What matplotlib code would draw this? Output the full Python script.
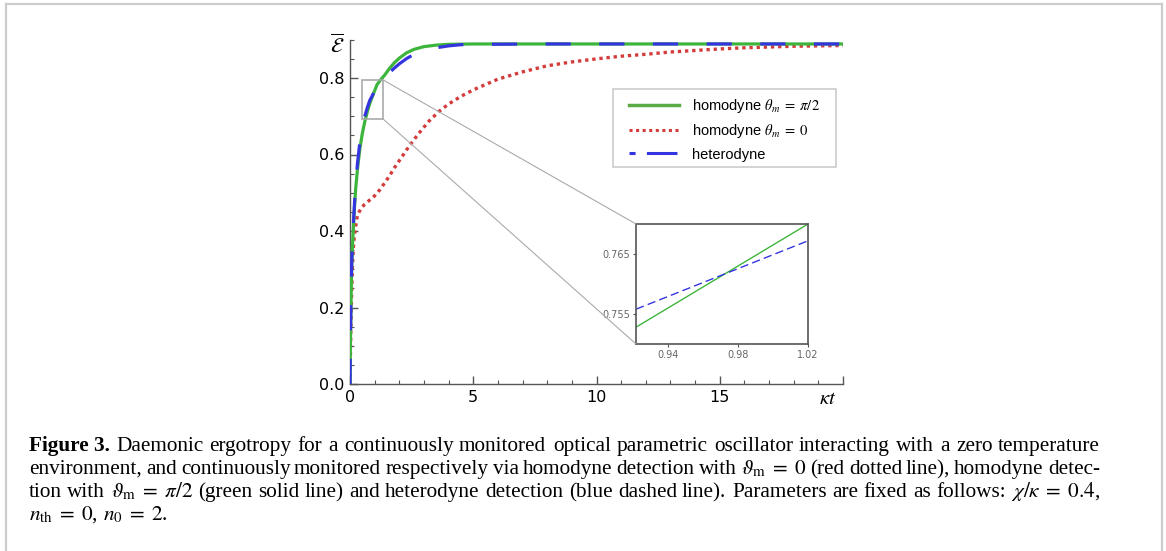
import numpy as np
import matplotlib
matplotlib.use('Agg')
import matplotlib.pyplot as plt
from matplotlib.patches import Rectangle, ConnectionPatch
from matplotlib.lines import Line2D
from matplotlib.transforms import IdentityTransform

# ---------------- data ----------------
t_pi2 = [0, 0.01, 0.02, 0.04, 0.07, 0.1, 0.13, 0.18, 0.23, 0.3, 0.4, 0.5, 0.6, 0.7,
         0.8, 0.97, 1.1, 1.25, 1.4, 1.6, 1.8, 2.0, 2.3, 2.6, 3.0, 3.5, 4.0, 5.0,
         8.0, 12.0, 16.0, 20.0]
e_pi2 = [0, 0.07, 0.12, 0.21, 0.31, 0.36, 0.40, 0.46, 0.51, 0.56, 0.615, 0.655, 0.686,
         0.711, 0.733, 0.762, 0.783, 0.796, 0.807, 0.825, 0.840, 0.852, 0.866, 0.875,
         0.882, 0.886, 0.888, 0.889, 0.889, 0.889, 0.889, 0.889]

t_het = [0, 0.01, 0.02, 0.04, 0.07, 0.1, 0.13, 0.18, 0.23, 0.3, 0.4, 0.5, 0.6, 0.7,
         0.8, 0.97, 1.1, 1.25, 1.4, 1.6, 1.8, 2.0, 2.3, 2.6, 3.0, 3.5, 4.0, 4.5, 5.0,
         8.0, 12.0, 16.0, 20.0]
e_het = [0, 0.08, 0.13, 0.22, 0.32, 0.37, 0.41, 0.47, 0.52, 0.575, 0.632, 0.672, 0.700,
         0.722, 0.741, 0.762, 0.777, 0.791, 0.801, 0.814, 0.826, 0.837, 0.851, 0.862,
         0.872, 0.879, 0.884, 0.887, 0.888, 0.889, 0.889, 0.889, 0.889]

t_zero = [0, 0.02, 0.04, 0.06, 0.1, 0.15, 0.2, 0.3, 0.45, 0.6, 0.8, 1.0, 1.2, 1.4, 1.6,
          1.8, 2.0, 2.4, 2.8, 3.2, 3.6, 4.0, 4.5, 5.0, 6.0, 7.0, 8.0, 9.0, 10.0, 11.0,
          12.0, 13.0, 14.0, 15.0, 16.0, 17.0, 18.0, 19.0, 20.0]
e_zero = [0, 0.09, 0.16, 0.22, 0.31, 0.37, 0.40, 0.44, 0.46, 0.47, 0.481, 0.492, 0.507,
          0.525, 0.544, 0.565, 0.584, 0.622, 0.656, 0.687, 0.712, 0.732, 0.752, 0.769,
          0.797, 0.816, 0.832, 0.842, 0.850, 0.857, 0.862, 0.868, 0.872, 0.876, 0.879,
          0.881, 0.883, 0.884, 0.885]

inset_t = [0.922, 1.02]
inset_pi2 = [0.7528, 0.7700]
inset_het = [0.7558, 0.7672]

labels = [r'homodyne $\theta_m\;=\;\pi/2$', r'homodyne $\theta_m\;=\;0$', 'heterodyne']
x_ticks = [0, 5, 10, 15, 20]
x_ticklabels = ['0', '5', '10', '15', '']
y_ticks = [0.0, 0.2, 0.4, 0.6, 0.8]
y_ticklabels = ['0.0', '0.2', '0.4', '0.6', '0.8']
inset_xticks = [0.94, 0.98, 1.02]
inset_xticklabels = ['0.94', '0.98', '1.02']
inset_yticks = [0.755, 0.765]
inset_yticklabels = ['0.755', '0.765']

caption = [
    "Daemonic ergotropy for a continuously monitored optical parametric oscillator interacting with a zero temperature",
    r"environment, and continuously monitored respectively via homodyne detection with $\vartheta_\mathrm{m}\;=\;0$ (red dotted line), homodyne detec-",
    r"tion with $\vartheta_\mathrm{m}\;=\;\pi/2$ (green solid line) and heterodyne detection (blue dashed line). Parameters are fixed as follows: $\chi/\kappa\;=\;0.4$,",
    r"$n_\mathrm{th}\;=\;0$, $n_0\;=\;2$.",
]

# ---------------- style ----------------
plt.rcParams['mathtext.fontset'] = 'stix'
W, H = 1166, 551
fig = plt.figure(figsize=(W / 100, H / 100), dpi=100)

GREEN = '#3db53d'
RED = '#d43c3c'
BLUE = '#3535e0'
SPINE = '#555555'

ax = fig.add_axes([350 / W, 1 - 384 / H, 493 / W, (384 - 39.75) / H])
ax.set_xlim(0, 20)
ax.set_ylim(0, 0.9)
for s in ['top', 'right']:
    ax.spines[s].set_visible(False)
for s in ['left', 'bottom']:
    ax.spines[s].set_color(SPINE)
    ax.spines[s].set_linewidth(1.0)

ax.plot(t_pi2, e_pi2, color=GREEN, lw=2.3, solid_capstyle='butt', zorder=3)
ax.plot(t_zero, e_zero, color=RED, lw=2.4, linestyle=(0, (1.0, 1.15)), zorder=2)
ax.plot(t_het, e_het, color=BLUE, lw=2.3, linestyle=(0, (7.9, 8.9)), zorder=4)

ax.set_xticks(x_ticks)
ax.set_xticklabels(x_ticklabels)
ax.set_xticks(np.arange(0, 21, 1), minor=True)
ax.set_yticks(y_ticks)
ax.set_yticklabels(y_ticklabels)
ax.set_yticks(np.arange(0, 0.901, 0.05), minor=True)
ax.tick_params(which='major', direction='in', length=6, width=1, color=SPINE,
               labelsize=11.5, labelcolor='black', pad=4)
ax.tick_params(which='minor', direction='in', length=3, width=0.8, color=SPINE)

# zoom box and connectors
ax.add_patch(Rectangle((0.5, 0.693), 0.84, 0.102, fill=False, ec='#aaaaaa', lw=1.2, zorder=5))

axin = fig.add_axes([636 / W, 1 - 344 / H, 172 / W, 120 / H])
axin.set_xlim(0.922, 1.02)
axin.set_ylim(0.75, 0.77)
axin.plot(inset_t, inset_pi2, color=GREEN, lw=1.0)
axin.plot(inset_t, inset_het, color=BLUE, lw=1.0, linestyle=(0, (6, 3)))
axin.set_xticks(inset_xticks)
axin.set_xticklabels(inset_xticklabels)
axin.set_yticks(inset_yticks)
axin.set_yticklabels(inset_yticklabels)
axin.tick_params(direction='out', length=2, width=0.8, color=SPINE, labelsize=7,
                 labelcolor='#666666', pad=2)
for s in axin.spines.values():
    s.set_color(SPINE)
    s.set_linewidth(1.2)

for xa, ya, xb, yb in [(1.34, 0.795, 0, 1), (1.34, 0.693, 0, 0)]:
    con = ConnectionPatch(xyA=(xa, ya), coordsA=ax.transData, xyB=(xb, yb),
                          coordsB=axin.transAxes, color='#aaaaaa', lw=0.8)
    fig.add_artist(con)

# legend (frame drawn separately)
handles = [Line2D([], [], color='#5aaa46', lw=2.5),
           Line2D([], [], color=RED, lw=2.2, linestyle=(0, (1.0, 1.15))),
           Line2D([], [], color=BLUE, lw=2.2, linestyle=(0, (2, 3.7, 10, 3.7)))]
leg = fig.legend(handles, labels, loc='upper left', bbox_to_anchor=(629 / W, 1 - 97 / H),
                 frameon=False, prop={'family': 'Liberation Sans', 'size': 10.5},
                 handlelength=3.4, handletextpad=0.9, borderpad=0, labelspacing=0.5,
                 borderaxespad=0)
fig.add_artist(Rectangle((613 / W, 1 - 167 / H), 223 / W, 78 / H, transform=fig.transFigure,
                         fill=False, ec='#cccccc', lw=1.2))

# axis labels
fig.text(337 / W, 1 - 44 / H, r'$\overline{\mathcal{E}}$', fontsize=15, ha='center', va='center')
fig.text(828 / W, 1 - 398 / H, r'$\kappa t$', fontsize=15, ha='center', va='center')

# outer frame
for xs, ys in [([5.5, 5.5], [0, H - 3.5]), ([5.5, 1162], [H - 3.5, H - 3.5]),
               ([1162, 1162], [0, H - 3.5])]:
    fig.add_artist(Line2D(np.array(xs) / W, np.array(ys) / H, color='#cccccc', lw=1.6))

# caption (justified)
renderer = fig.canvas.get_renderer()
CAP_FS = 15.3
CAP_FAM = 'Liberation Serif'
x_left, x_right = 29, 1100
baselines = [451, 474, 497, 520]


def make_tokens(line, first=False):
    toks = []
    if first:
        toks.append(('Figure 3.', 'bold'))
    for w in line.split(' '):
        toks.append((w, 'normal'))
    return toks


def text_width(s, wt='normal'):
    tx = fig.text(0, 0, s, transform=IdentityTransform(), fontsize=CAP_FS,
                  family=CAP_FAM, weight=wt)
    w = tx.get_window_extent(renderer).width
    tx.remove()
    return w


space_w = text_width('a b') - text_width('ab')

for i, line in enumerate(caption):
    toks = make_tokens(line, first=(i == 0))
    y = H - baselines[i]
    objs = []
    widths = []
    for s, wt in toks:
        tx = fig.text(0, y, s, transform=IdentityTransform(), fontsize=CAP_FS,
                      family=CAP_FAM, weight=wt, va='baseline', ha='left')
        objs.append(tx)
        widths.append(tx.get_window_extent(renderer).width)
    if i < len(caption) - 1:
        gap = (x_right - x_left - sum(widths)) / (len(toks) - 1)
    else:
        gap = space_w
    x = x_left
    for tx, w in zip(objs, widths):
        tx.set_x(round(x))
        x += w + gap

fig.savefig('out.png', dpi=100)
